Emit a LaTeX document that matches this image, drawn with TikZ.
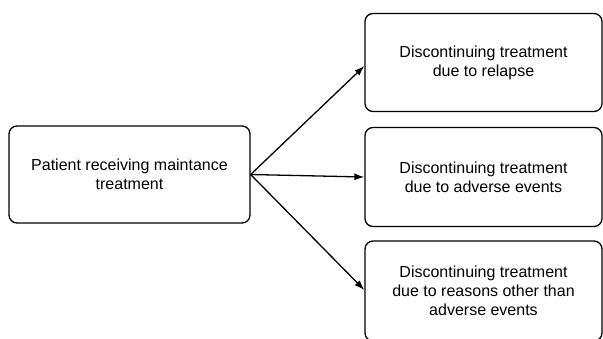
\documentclass[tikz,border=0pt]{standalone}
\usepackage{fontspec}
\setmainfont{Liberation Sans}
\usetikzlibrary{arrows.meta}

\begin{document}
\begin{tikzpicture}[x=1pt,y=-1pt,
    box/.style={draw, line width=1.3pt, rounded corners=8pt, align=center,
      font=\fontsize{16}{19}\selectfont, inner sep=0pt},
    arr/.style={-{Latex[length=10pt,width=7pt]}, line width=1.3pt}]
	\useasboundingbox (0,0) rectangle (603,338);

	\node[box, minimum width=241pt, minimum height=97pt] (patient) at (129.5,174.5)
	  {Patient receiving maintance\\treatment};

	\node[box, minimum width=237pt, minimum height=98pt] (relapse) at (483.5,62.5)
	  {Discontinuing treatment\\due to relapse};
	\node[box, minimum width=237pt, minimum height=99pt] (adverse) at (483.5,177)
	  {Discontinuing treatment\\due to adverse events};
	\node[box, minimum width=237pt, minimum height=100pt] (other) at (483.5,291)
	  {Discontinuing treatment\\due to reasons other than\\adverse events};

	\foreach \target/\ypos in {relapse/66, adverse/177, other/290}{
	   \draw[arr] (patient.east) -- (\target.west |- 0,\ypos);
	}
\end{tikzpicture}
\end{document}
